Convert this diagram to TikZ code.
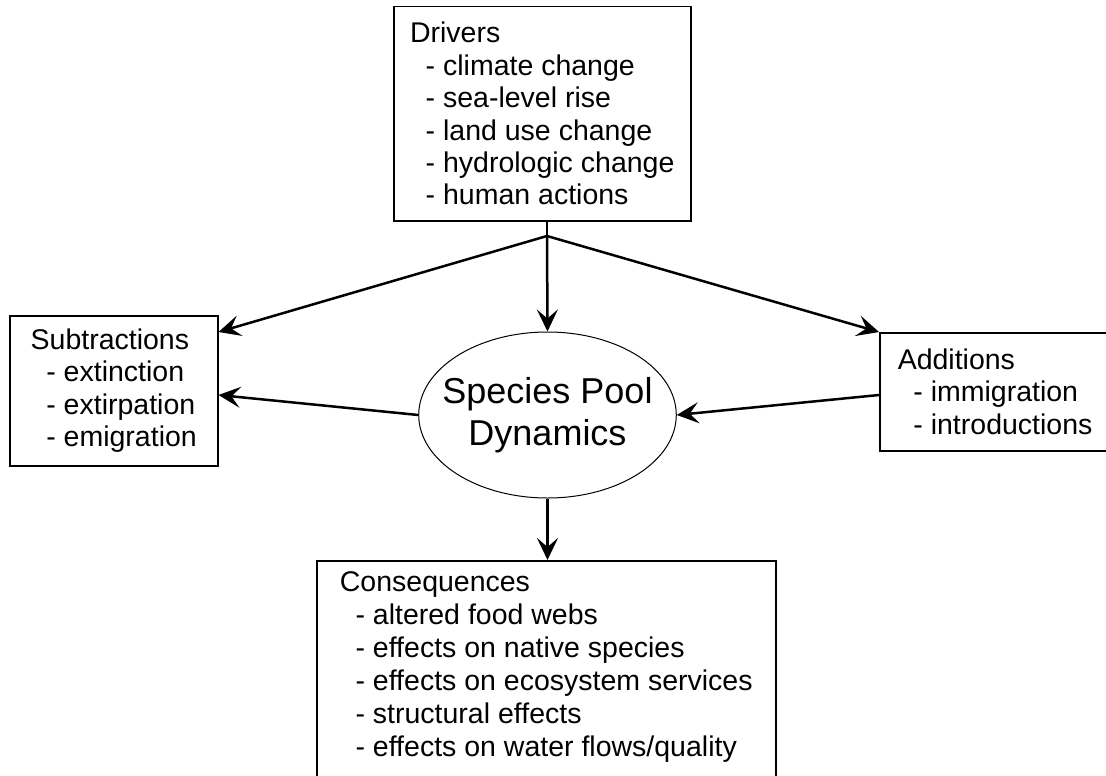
\documentclass[tikz,border=0pt]{standalone}
\usepackage{fontspec}
\setmainfont{Liberation Sans}
\usetikzlibrary{arrows.meta,shapes.geometric,calc}
\begin{document}
\begin{tikzpicture}[x=1pt,y=-1pt,
  box/.style={draw,line width=1.5pt,rectangle,align=left,anchor=north west,
    inner xsep=18pt,inner ysep=0pt,font=\fontsize{28.5}{32.4}\selectfont},
  pool/.style={draw,line width=1pt,ellipse,align=center,inner xsep=-14pt,inner ysep=17pt,
    minimum width=257pt,minimum height=166pt,font=\fontsize{36}{42}\selectfont},
  arr/.style={line width=2.5pt,-{Stealth[length=22pt,width=21pt,inset=9pt]}},
  ln/.style={line width=2.5pt}]
\useasboundingbox (0,0) rectangle (1106,776);
\newcommand{\ind}{\hspace*{0.55em}}
\node[box,inner xsep=16pt,minimum width=297pt,minimum height=214pt] (drv) at (393,6)
  {Drivers\\\ind- climate change\\\ind- sea-level rise\\\ind- land use change\\\ind- hydrologic change\\\ind- human actions};
\node[box,minimum width=208pt,minimum height=150pt] (sub) at (9,315)
  {Subtractions\\\ind- extinction\\\ind- extirpation\\\ind- emigration};
\node[box,minimum width=224pt,minimum height=118pt] (add) at (879,332)
  {Additions\\\ind- immigration\\\ind- introductions};
\node[box,minimum width=459pt,inner ysep=11pt,font=\fontsize{28.5}{33}\selectfont] (con) at (316,560)
  {Consequences\\\ind- altered food webs\\\ind- effects on native species\\\ind- effects on ecosystem services\\\ind- structural effects\\\ind- effects on water flows/quality\\[20pt]};
\node[pool] (pool) at (547.5,415) {Species Pool\\Dynamics};
\coordinate (br) at (547,236);
\draw[ln] (drv.south -| br) -- (br);
\draw[arr] (br) -- (pool.north);
\draw[arr] (br) -- ($(sub.north east)+(0,17)$);
\draw[arr] (br) -- (add.north west);
\draw[arr] (pool.west) -- ($(sub.north east)+(0,80)$);
\draw[arr] ($(add.north west)+(0,63)$) -- (pool.east);
\draw[arr] (pool.south) -- (con.north -| pool.south);
\end{tikzpicture}
\end{document}
